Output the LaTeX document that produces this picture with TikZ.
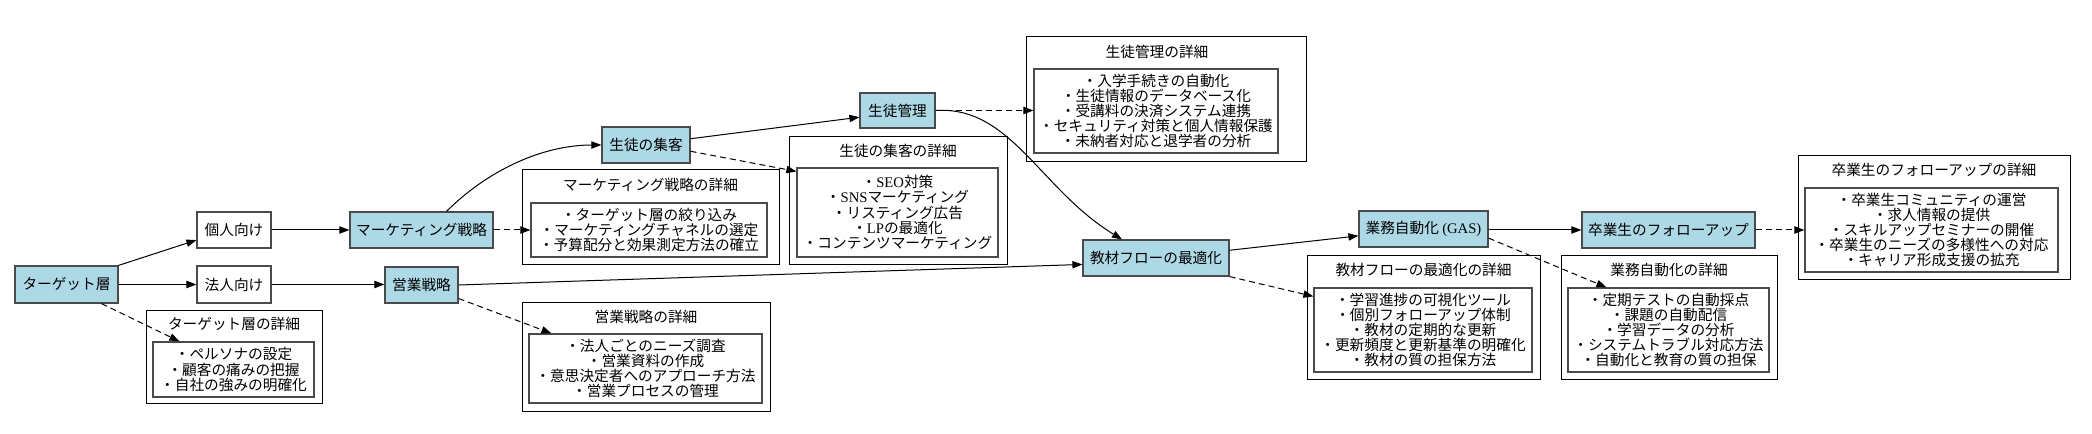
\documentclass[tikz,border=0pt]{standalone}
\usepackage{fontspec}
\newfontfamily\jpfont{Noto Sans CJK JP}
\newfontfamily\latfont{Liberation Serif}
\newcommand\lat[1]{{\latfont #1}}
\usetikzlibrary{arrows.meta,calc}
\definecolor{StageBlue}{HTML}{ADD8E6}
\definecolor{EdgeGray}{HTML}{4A4A4A}

\begin{document}
\begin{tikzpicture}[x=0.75pt,y=-0.75pt,
      dims/.style 2 args={minimum width=#1*0.75pt,minimum height=#2*0.75pt},
      plain/.style={draw=EdgeGray,line width=0.9pt,fill=white,inner sep=0pt,
                    font={\jpfont\fontsize{11}{11.4}\selectfont}},
      stage/.style={plain,fill=StageBlue},
      group/.style={draw=black,line width=0.75pt,inner sep=0pt},
      grouptitle/.style={inner sep=0pt,font={\jpfont\fontsize{11}{11.4}\selectfont}},
      items/.style={plain,align=center},
      flow/.style={-{Triangle[length=7.5pt,width=5.5pt]},line width=0.75pt},
      note/.style={flow,dash pattern=on 4.5pt off 3pt}]
    \useasboundingbox (0,0) rectangle (2092,434);
    % detail groups
    \node[group,dims={176}{93}] (tgtD) at (234,357.5) {};
    \node[grouptitle] (tgtDtitle) at (234,324) {ターゲット層の詳細};
    \node[items,dims={161}{55}] (tgtIn) at (233.5,369.5)
      {・ペルソナの設定\\・顧客の痛みの把握\\・自社の強みの明確化};
    \node[group,dims={257}{95}] (mktD) at (650.5,217.5) {};
    \node[grouptitle] (mktDtitle) at (650.5,185) {マーケティング戦略の詳細};
    \node[items,dims={236}{54}] (mktIn) at (649,230)
      {・ターゲット層の絞り込み\\・マーケティングチャネルの選定\\・予算配分と効果測定方法の確立};
    \node[group,dims={248}{109}] (salesD) at (646,357.5) {};
    \node[grouptitle] (salesDtitle) at (646,317) {営業戦略の詳細};
    \node[items,dims={233}{69}] (salesIn) at (645.5,368.5)
      {・法人ごとのニーズ調査\\・営業資料の作成\\・意思決定者へのアプローチ方法\\・営業プロセスの管理};
    \node[group,dims={218}{128}] (recD) at (898,201) {};
    \node[grouptitle] (recDtitle) at (898,151) {生徒の集客の詳細};
    \node[items,dims={201}{89}] (recIn) at (897.5,212.5)
      {・\lat{SEO}対策\\・\lat{SNS}マーケティング\\・リスティング広告\\・\lat{LP}の最適化\\・コンテンツマーケティング};
    \node[group,dims={280}{125}] (manD) at (1166,99.5) {};
    \node[grouptitle] (manDtitle) at (1157,52) {生徒管理の詳細};
    \node[items,dims={244}{84}] (manIn) at (1156,111)
      {・入学手続きの自動化\\・生徒情報のデータベース化\\・受講料の決済システム連携\\・セキュリティ対策と個人情報保護\\・未納者対応と退学者の分析};
    \node[group,dims={233}{124}] (flowD) at (1423.5,318) {};
    \node[grouptitle] (flowDtitle) at (1423.5,270) {教材フローの最適化の詳細};
    \node[items,dims={218}{84}] (flowIn) at (1423,330)
      {・学習進捗の可視化ツール\\・個別フォローアップ体制\\・教材の定期的な更新\\・更新頻度と更新基準の明確化\\・教材の質の担保方法};
    \node[group,dims={216}{124}] (autoD) at (1669,318) {};
    \node[grouptitle] (autoDtitle) at (1669,270) {業務自動化の詳細};
    \node[items,dims={201}{84}] (autoIn) at (1668.5,330)
      {・定期テストの自動採点\\・課題の自動配信\\・学習データの分析\\・システムトラブル対応方法\\・自動化と教育の質の担保};
    \node[group,dims={272}{124}] (alumD) at (1934,218) {};
    \node[grouptitle] (alumDtitle) at (1934,170) {卒業生のフォローアップの詳細};
    \node[items,dims={253}{84}] (alumIn) at (1931.5,230)
      {・卒業生コミュニティの運営\\・求人情報の提供\\・スキルアップセミナーの開催\\・卒業生のニーズの多様性への対応\\・キャリア形成支援の拡充};
    % main flow
    \node[stage,dims={103}{37}] (tgt) at (66.5,284.5) {ターゲット層};
    \node[plain,dims={74}{36}] (indiv) at (234,230) {個人向け};
    \node[plain,dims={74}{37}] (corp) at (234,284.5) {法人向け};
    \node[stage,dims={143}{36}] (mkt) at (421.5,230) {マーケティング戦略};
    \node[stage,dims={73}{36}] (sales) at (421.5,285) {営業戦略};
    \node[stage,dims={88}{36}] (recruit) at (646,145) {生徒の集客};
    \node[stage,dims={75}{35}] (manage) at (897.5,110.5) {生徒管理};
    \node[stage,dims={146}{36}] (flow) at (1156,258) {教材フローの最適化};
    \node[stage,dims={129}{36}] (auto) at (1423.5,229) {業務自動化 \lat{(GAS)}};
    \node[stage,dims={173}{36}] (alumni) at (1668.5,230) {卒業生のフォローアップ};
    \draw[flow] (tgt.north east) -- (indiv.195);
    \draw[flow] (tgt) -- (corp);
    \draw[note] ($(tgt.south)+(35,0)$) -- ($(tgtIn.north west)+(27,0)$);
    \draw[flow] (indiv) -- (mkt);
    \draw[flow] (corp) -- (corp -| sales.west);
    \draw[flow] ($(mkt.north)+(25,0)$) .. controls +(40,-40) and +(-60,0) .. (recruit.west);
    \draw[note] (mkt.east) -- (mktIn.west);
    \draw[flow] (sales.east) -- (flow.185);
    \draw[note] (sales.-20) -- ($(salesIn.north west)+(23,0)$);
    \draw[flow] (recruit.8) -- (manage.190);
    \draw[note] (recruit.-8) -- ($(recIn.north west)+(0,4)$);
    \draw[note] (manage.east) -- (manIn.west |- manage.east);
    \draw[flow] (manage.east) .. controls +(75,-5) and +(-82,-50) .. ($(flow.north)+(-34,0)$);
    \draw[flow] (flow.6) -- (auto.186);
    \draw[note] (flow.south east) -- ($(flowIn.north west)+(0,9)$);
    \draw[flow] (auto.east |- alumni.west) -- (alumni.west);
    \draw[note] (auto.-8) -- ($(autoIn.north west)+(39,0)$);
    \draw[note] (alumni.east) -- (alumIn.west);
  \end{tikzpicture}
\end{document}
